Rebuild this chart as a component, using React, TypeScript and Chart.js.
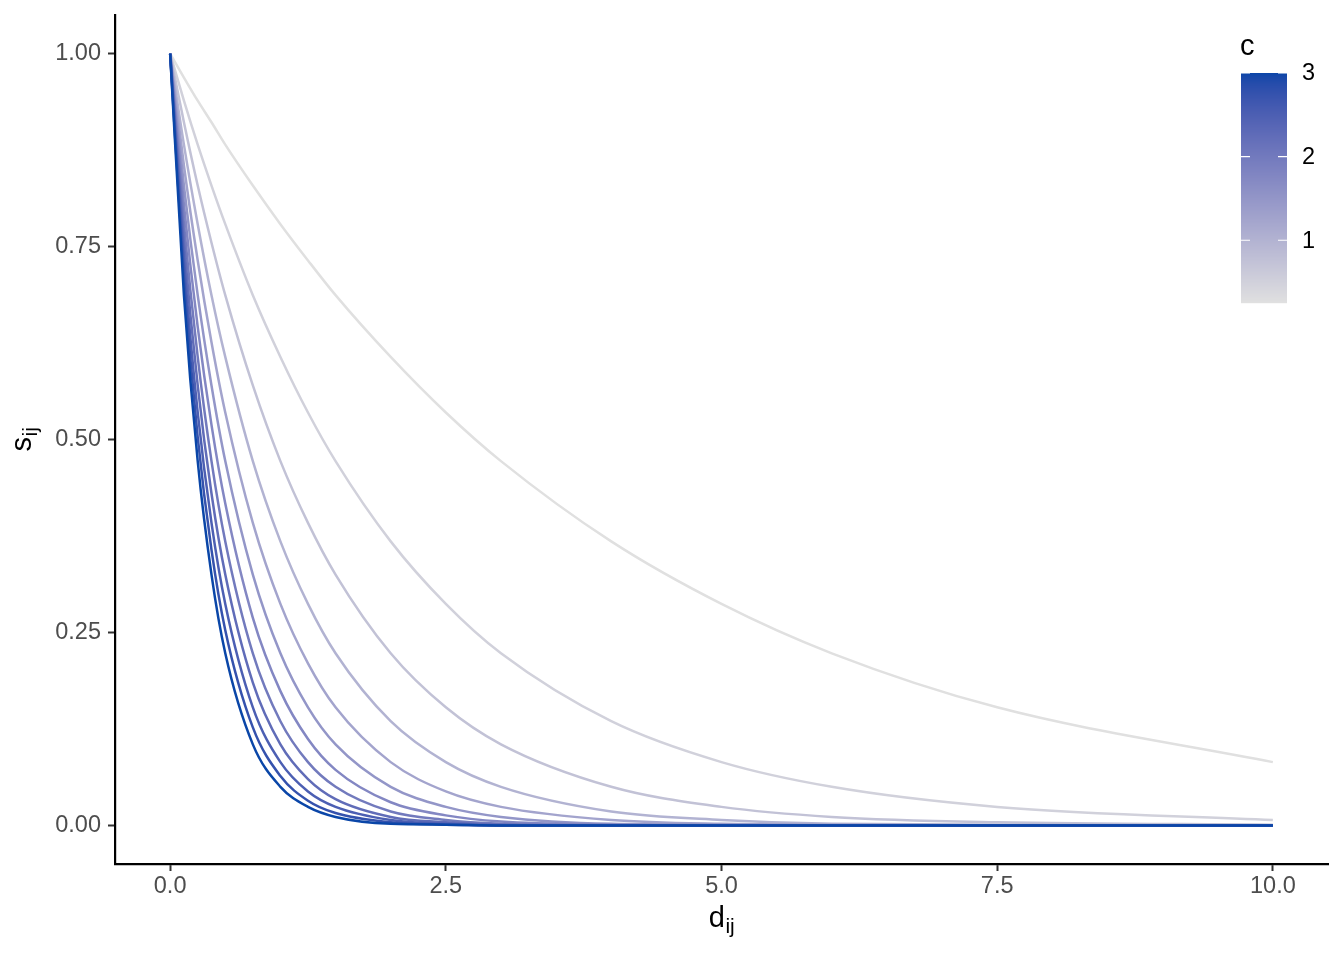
import React, { useEffect, useRef } from "react";
import { Chart, registerables } from "chart.js";

Chart.register(...registerables);

// distance values (x) at which the curves were read
const D_VALUES = [0, 0.125, 0.25, 0.375, 0.5, 0.75, 1, 1.25, 1.5, 2, 2.5, 3, 4, 5, 6, 7.5, 10];

// colour parameter of each curve
const C_VALUES = [0.25, 0.5, 0.75, 1, 1.25, 1.5, 1.75, 2, 2.25, 2.5, 2.75, 3];

// s_ij values, one array per curve
const S_C025 = [1, 0.969, 0.939, 0.911, 0.882, 0.829, 0.779, 0.732, 0.687, 0.607, 0.535, 0.472, 0.368, 0.287, 0.223, 0.153, 0.082];
const S_C050 = [1, 0.939, 0.882, 0.829, 0.779, 0.687, 0.607, 0.535, 0.472, 0.368, 0.287, 0.223, 0.135, 0.082, 0.05, 0.024, 0.007];
const S_C075 = [1, 0.911, 0.829, 0.755, 0.687, 0.57, 0.472, 0.392, 0.325, 0.223, 0.153, 0.105, 0.05, 0.024, 0.011, 0.004, 0.001];
const S_C100 = [1, 0.882, 0.779, 0.687, 0.607, 0.472, 0.368, 0.287, 0.223, 0.135, 0.082, 0.05, 0.018, 0.007, 0.002, 0.001, 0];
const S_C125 = [1, 0.855, 0.732, 0.626, 0.535, 0.392, 0.287, 0.21, 0.153, 0.082, 0.044, 0.024, 0.007, 0.002, 0.001, 0, 0];
const S_C150 = [1, 0.829, 0.687, 0.57, 0.472, 0.325, 0.223, 0.153, 0.105, 0.05, 0.024, 0.011, 0.002, 0.001, 0, 0, 0];
const S_C175 = [1, 0.804, 0.646, 0.519, 0.417, 0.269, 0.174, 0.112, 0.072, 0.03, 0.013, 0.005, 0.001, 0, 0, 0, 0];
const S_C200 = [1, 0.779, 0.607, 0.472, 0.368, 0.223, 0.135, 0.082, 0.05, 0.018, 0.007, 0.002, 0, 0, 0, 0, 0];
const S_C225 = [1, 0.755, 0.57, 0.43, 0.325, 0.185, 0.105, 0.06, 0.034, 0.011, 0.004, 0.001, 0, 0, 0, 0, 0];
const S_C250 = [1, 0.732, 0.535, 0.392, 0.287, 0.153, 0.082, 0.044, 0.024, 0.007, 0.002, 0, 0, 0, 0, 0, 0];
const S_C275 = [1, 0.709, 0.503, 0.357, 0.253, 0.127, 0.064, 0.032, 0.016, 0.004, 0.001, 0, 0, 0, 0, 0, 0];
const S_C300 = [1, 0.687, 0.472, 0.325, 0.223, 0.105, 0.05, 0.024, 0.011, 0.002, 0.001, 0, 0, 0, 0, 0, 0];

const SERIES = [S_C025, S_C050, S_C075, S_C100, S_C125, S_C150, S_C175, S_C200, S_C225, S_C250, S_C275, S_C300];

const X_TICKS = [0, 2.5, 5, 7.5, 10];
const X_TICK_LABELS = ["0.0", "2.5", "5.0", "7.5", "10.0"];
const Y_TICKS = [0, 0.25, 0.5, 0.75, 1];
const Y_TICK_LABELS = ["0.00", "0.25", "0.50", "0.75", "1.00"];
const LEGEND_TICKS = [1, 2, 3];
const LEGEND_TICK_LABELS = ["1", "2", "3"];
const C_LIMITS = [0.25, 3];

const LOW_COLOR = "#E0E0E0";
const HIGH_COLOR = "#0A46A8";
const FONT = "'Liberation Sans', Arial, Helvetica, sans-serif";

// ---- CIELAB colour interpolation (like ggplot2's gradient) ----
function hexToRgb(h: string) {
  const n = parseInt(h.slice(1), 16);
  return [(n >> 16) & 255, (n >> 8) & 255, n & 255];
}
function srgbToLin(c: number) {
  c /= 255;
  return c <= 0.04045 ? c / 12.92 : Math.pow((c + 0.055) / 1.055, 2.4);
}
function linToSrgb(c: number) {
  const v = c <= 0.0031308 ? 12.92 * c : 1.055 * Math.pow(c, 1 / 2.4) - 0.055;
  return Math.max(0, Math.min(255, Math.round(v * 255)));
}
const WX = 0.95047, WY = 1.0, WZ = 1.08883;
function rgbToLab(rgb: number[]) {
  const [r, g, b] = rgb.map(srgbToLin);
  const x = (0.4124 * r + 0.3576 * g + 0.1805 * b) / WX;
  const y = (0.2126 * r + 0.7152 * g + 0.0722 * b) / WY;
  const z = (0.0193 * r + 0.1192 * g + 0.9505 * b) / WZ;
  const f = (t: number) => (t > 0.008856 ? Math.cbrt(t) : 7.787 * t + 16 / 116);
  const fx = f(x), fy = f(y), fz = f(z);
  return [116 * fy - 16, 500 * (fx - fy), 200 * (fy - fz)];
}
function labToRgbStr(lab: number[]) {
  const [L, a, bb] = lab;
  const fy = (L + 16) / 116;
  const fx = fy + a / 500;
  const fz = fy - bb / 200;
  const inv = (t: number) => (t * t * t > 0.008856 ? t * t * t : (t - 16 / 116) / 7.787);
  const x = inv(fx) * WX, y = inv(fy) * WY, z = inv(fz) * WZ;
  const r = 3.2406 * x - 1.5372 * y - 0.4986 * z;
  const g = -0.9689 * x + 1.8758 * y + 0.0415 * z;
  const b = 0.0557 * x - 0.204 * y + 1.057 * z;
  return `rgb(${linToSrgb(r)},${linToSrgb(g)},${linToSrgb(b)})`;
}
const LAB_LOW = rgbToLab(hexToRgb(LOW_COLOR));
const LAB_HIGH = rgbToLab(hexToRgb(HIGH_COLOR));
function colorFor(c: number) {
  const t = Math.max(0, Math.min(1, (c - C_LIMITS[0]) / (C_LIMITS[1] - C_LIMITS[0])));
  return labToRgbStr(LAB_LOW.map((v, i) => v + (LAB_HIGH[i] - v) * t));
}

const overlayPlugin = {
  id: "overlay",
  afterDraw(chart: any) {
    const ctx = chart.ctx as CanvasRenderingContext2D;
    const area = chart.chartArea;
    ctx.save();
    ctx.fillStyle = "#000000";

    // x title d_ij
    const mainF = `29px ${FONT}`;
    const subF = `21px ${FONT}`;
    ctx.font = mainF;
    const wd = ctx.measureText("d").width;
    ctx.font = subF;
    const wij = ctx.measureText("ij").width;
    const cx = (area.left + area.right) / 2;
    const xs = cx - (wd + wij) / 2;
    ctx.textBaseline = "alphabetic";
    ctx.textAlign = "left";
    ctx.font = mainF;
    ctx.fillText("d", xs, 927);
    ctx.font = subF;
    ctx.fillText("ij", xs + wd + 0.5, 933);

    // y title s_ij
    ctx.save();
    ctx.translate(31, (area.top + area.bottom) / 2);
    ctx.rotate(-Math.PI / 2);
    ctx.font = mainF;
    const ws = ctx.measureText("s").width;
    const ys = -(ws + wij) / 2;
    ctx.fillText("s", ys, 0);
    ctx.font = subF;
    ctx.fillText("ij", ys + ws + 0.5, 6);
    ctx.restore();

    // colour bar legend
    const bx0 = 1241, bx1 = 1287, byTop = 73, byBot = 303;
    const n = byBot - byTop;
    for (let i = 0; i < n; i++) {
      const c = C_LIMITS[1] - ((i + 0.5) / n) * (C_LIMITS[1] - C_LIMITS[0]);
      ctx.fillStyle = colorFor(c);
      ctx.fillRect(bx0, byTop + i, bx1 - bx0, 1.2);
    }
    ctx.strokeStyle = "#FFFFFF";
    ctx.lineWidth = 1.2;
    ctx.font = `23.5px ${FONT}`;
    ctx.textBaseline = "middle";
    ctx.textAlign = "left";
    LEGEND_TICKS.forEach((v, i) => {
      const y = byBot - ((v - C_LIMITS[0]) / (C_LIMITS[1] - C_LIMITS[0])) * (byBot - byTop);
      ctx.beginPath();
      ctx.moveTo(bx0, y);
      ctx.lineTo(bx0 + 9, y);
      ctx.moveTo(bx1 - 9, y);
      ctx.lineTo(bx1, y);
      ctx.stroke();
      ctx.fillStyle = "#000000";
      ctx.fillText(LEGEND_TICK_LABELS[i], 1302, y + 1);
    });
    ctx.font = `29px ${FONT}`;
    ctx.textBaseline = "alphabetic";
    ctx.fillStyle = "#000000";
    ctx.fillText("c", 1240, 55);
    ctx.restore();
  },
};

export default function App() {
  const ref = useRef<HTMLCanvasElement | null>(null);
  useEffect(() => {
    if (!ref.current) return;
    const datasets = C_VALUES.map((c, i) => ({
      label: String(c),
      data: D_VALUES.map((d, j) => ({ x: d, y: SERIES[i][j] })),
      borderColor: colorFor(c),
      borderWidth: 2.5,
      borderCapStyle: "butt" as const,
      pointRadius: 0,
      fill: false,
      cubicInterpolationMode: "monotone" as const,
    })).reverse();
    const chart = new Chart(ref.current, {
      type: "line",
      data: { datasets },
      options: {
        animation: false,
        responsive: false,
        maintainAspectRatio: false,
        layout: { padding: { left: 0, top: 15, right: 16, bottom: 0 } },
        plugins: { legend: { display: false }, tooltip: { enabled: false } },
        scales: {
          x: {
            type: "linear",
            min: -0.5,
            max: 10.5,
            afterFit: (s: any) => { s.height = 96; s.paddingLeft = 0; s.paddingRight = 0; },
            afterBuildTicks: (s: any) => { s.ticks = X_TICKS.map((v) => ({ value: v })); },
            ticks: {
              callback: (v: any) => X_TICK_LABELS[X_TICKS.indexOf(Number(v))] ?? "",
              color: "#4D4D4D",
              font: { family: FONT, size: 23.5 },
              padding: 1,
              maxRotation: 0,
              autoSkip: false,
            },
            grid: { drawOnChartArea: false, drawTicks: true, tickLength: 7, tickColor: "#333333", tickWidth: 2 },
            border: { display: true, color: "#000000", width: 2.2 },
          },
          y: {
            type: "linear",
            min: -0.05,
            max: 1.05,
            afterFit: (s: any) => { s.width = 115; s.paddingTop = 0; s.paddingBottom = 0; },
            afterBuildTicks: (s: any) => { s.ticks = Y_TICKS.map((v) => ({ value: v })); },
            ticks: {
              callback: (v: any) => Y_TICK_LABELS[Y_TICKS.indexOf(Number(v))] ?? "",
              color: "#4D4D4D",
              font: { family: FONT, size: 23.5 },
              padding: 7,
              autoSkip: false,
            },
            grid: { drawOnChartArea: false, drawTicks: true, tickLength: 7, tickColor: "#333333", tickWidth: 2 },
            border: { display: true, color: "#000000", width: 2.2 },
          },
        },
      },
      plugins: [overlayPlugin],
    });
    return () => chart.destroy();
  }, []);
  return (
    <div style={{ position: "absolute", left: 0, top: 0, width: 1344, height: 960, background: "#FFFFFF" }}>
      <canvas ref={ref} width={1344} height={960} style={{ display: "block", width: 1344, height: 960 }} />
    </div>
  );
}
